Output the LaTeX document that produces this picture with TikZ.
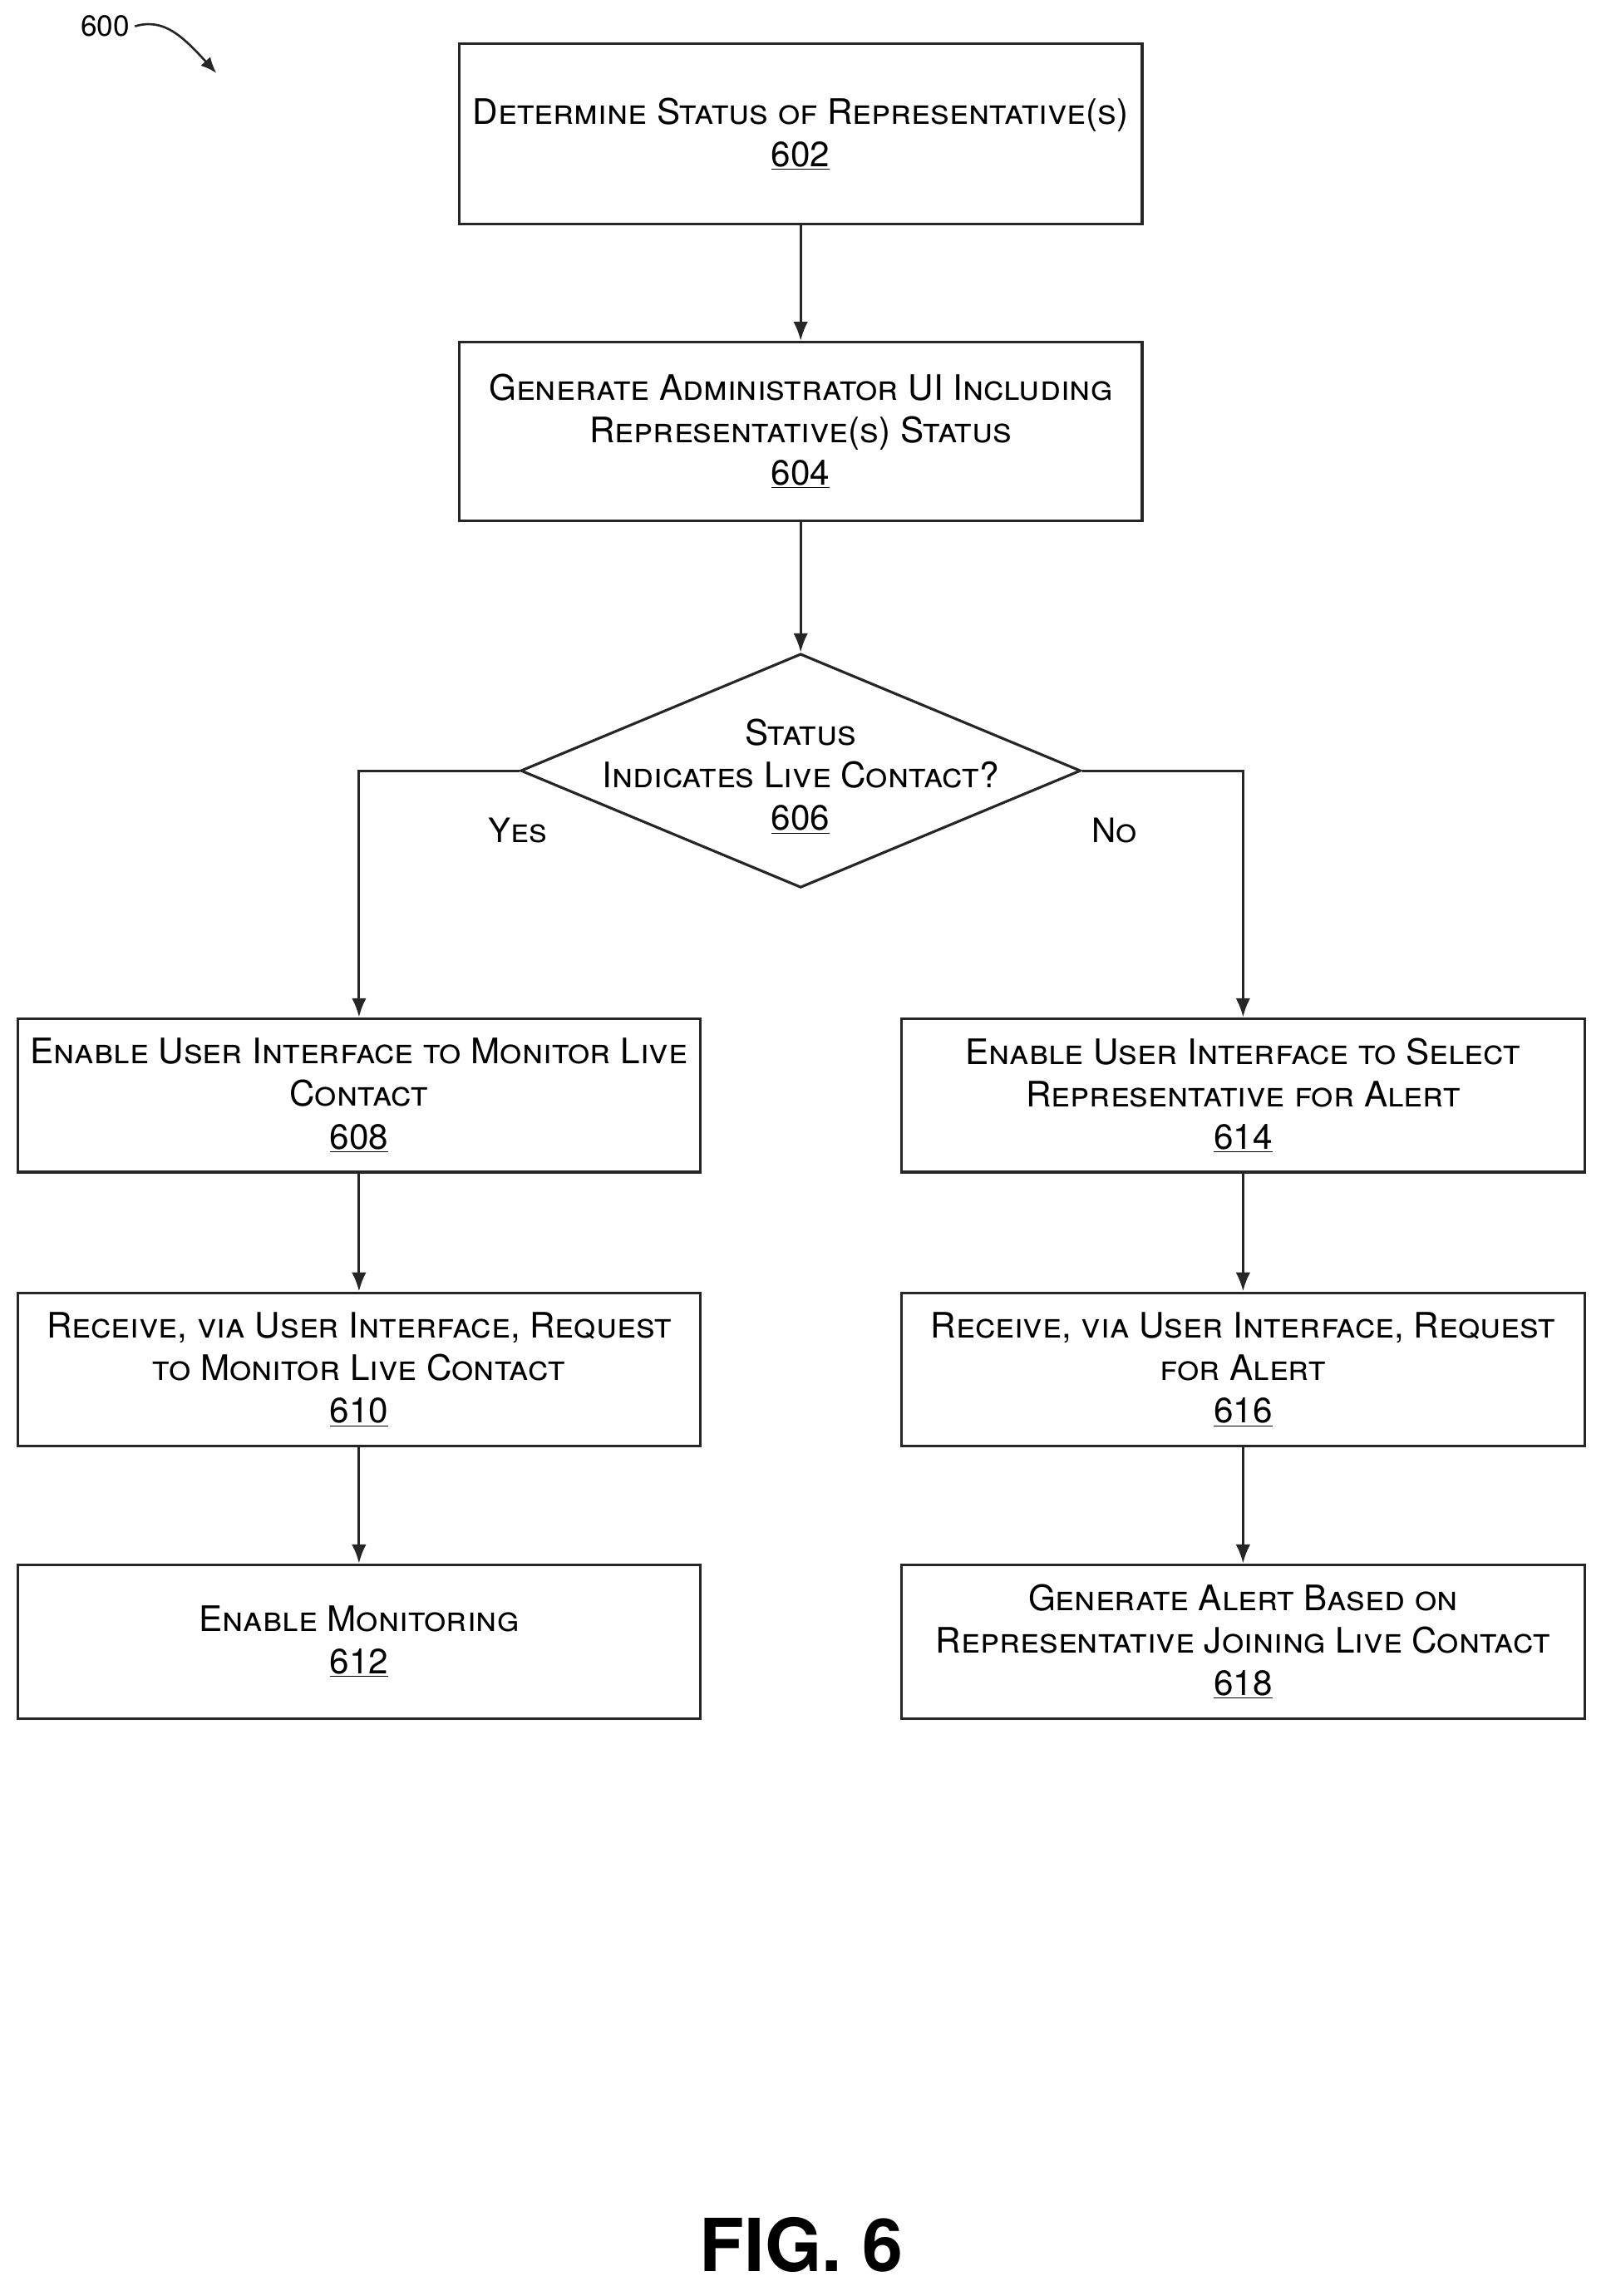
\documentclass[tikz,border=0pt]{standalone}
\usepackage{fontspec}
\setmainfont{TeX Gyre Heros}
\usetikzlibrary{shapes.geometric,arrows.meta}
\begin{document}
\begin{tikzpicture}[x=1pt,y=-1pt,
  box/.style={draw=black!85,line width=1.8pt,minimum width=467pt,minimum height=105pt,align=center,inner sep=2pt,font=\fontsize{24}{29}\selectfont\scshape},
  arr/.style={draw=black!85,line width=1.8pt,-{Latex[length=13pt,width=10pt]}},
  lab/.style={font=\fontsize{23}{26}\selectfont\scshape}]
\useasboundingbox (0,0) rectangle (1098,1570);
\node[box,minimum height=123pt] (b602) at (547.5,91.5) {Determine Status of Representative(s)\\\underline{602}};
\node[box,minimum height=122pt] (b604) at (547.5,295) {Generate Administrator UI Including\\Representative(s) Status\\\underline{604}};
\node[diamond,draw=black!85,line width=1.8pt,minimum width=383pt,minimum height=160pt,inner sep=0pt,aspect=2.4] (d606) at (547.5,527) {};
\node[align=center,font=\fontsize{24}{29}\selectfont\scshape] (t606) at (547.5,531) {Status\\Indicates Live Contact?\\\underline{606}};
\node[box] (b608) at (245.5,749) {Enable User Interface to Monitor Live\\Contact\\\underline{608}};
\node[box] (b610) at (245.5,936.5) {Receive, via User Interface, Request\\to Monitor Live Contact\\\underline{610}};
\node[box] (b612) at (245.5,1122.5) {Enable Monitoring\\\underline{612}};
\node[box] (b614) at (850,749) {Enable User Interface to Select\\Representative for Alert\\\underline{614}};
\node[box] (b616) at (850,936.5) {Receive, via User Interface, Request\\for Alert\\\underline{616}};
\node[box] (b618) at (850,1122.5) {Generate Alert Based on\\Representative Joining Live Contact\\\underline{618}};
\draw[arr] (b602) -- (b604);
\draw[arr] (b604) -- (d606.north);
\draw[arr] (d606.west) -| (b608.north);
\draw[arr] (d606.east) -| (b614.north);
\draw[arr] (b608) -- (b610);
\draw[arr] (b610) -- (b612);
\draw[arr] (b614) -- (b616);
\draw[arr] (b616) -- (b618);
\node[lab] (yes) at (354,568) {Yes};
\node[lab] (no) at (762,568) {No};
\node[font=\fontsize{20}{24}\selectfont] (n600) at (72,18) {600};
\coordinate (p600) at (148,50);
\draw[line width=1.5pt,black!85,-{Latex[length=11pt,width=9pt]}] (n600.east) .. controls (112,12) and (125,25) .. (p600);
\node[font=\fontsize{50}{56}\selectfont\bfseries] (fig) at (548,1535) {FIG. 6};
\end{tikzpicture}
\end{document}
